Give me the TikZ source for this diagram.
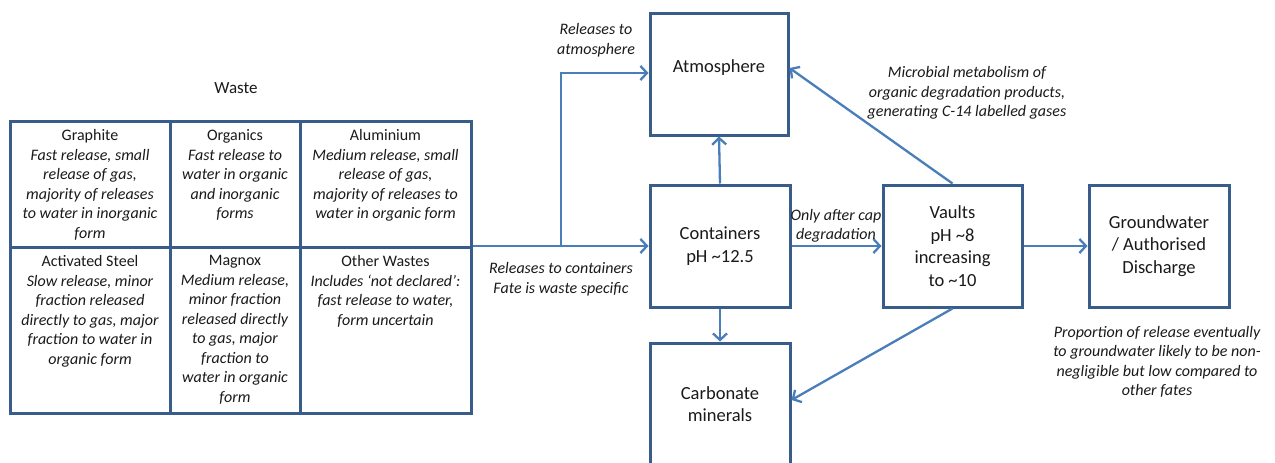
\documentclass[tikz,border=0pt]{standalone}
\usepackage{fontspec}
\setmainfont{Carlito}
\usetikzlibrary{arrows.meta,calc}
\definecolor{boxline}{HTML}{385D8A}
\definecolor{flow}{HTML}{4A7EBB}
\definecolor{ink}{HTML}{1A1A1A}
\begin{document}
\begin{tikzpicture}[x=1pt,y=-1pt,
  every node/.style={text=ink,inner sep=0pt},
  stage/.style={draw=boxline,line width=3pt,rectangle,minimum width=139pt,minimum height=122pt,
     align=center,font=\fontsize{18.5}{22.7}\selectfont},
  cell/.style={draw=boxline,line width=3pt,rectangle},
  celltext/.style={anchor=north,align=center,font=\fontsize{16}{19.5}\selectfont},
  note/.style={align=center,font=\fontsize{16}{19.5}\selectfont\itshape},
  flowline/.style={draw=flow,line width=2.3pt},
  flowarrow/.style={flowline,-{Straight Barb[length=6.5pt,width=14pt,line width=2.3pt]}}
]
\clip (0,0) rectangle (1275,463);
\useasboundingbox (0,0) rectangle (1275,463);
\fill[white] (0,0) rectangle (1275,463);

% Waste table
\node[font=\fontsize{17}{20}\selectfont] (wastetitle) at (236,88) {Waste};
\node[cell,minimum width=160pt,minimum height=126pt] (c11) at (90,184) {};
\node[cell,minimum width=130pt,minimum height=126pt] (c12) at (235,184) {};
\node[cell,minimum width=171pt,minimum height=126pt] (c13) at (385.5,184) {};
\node[cell,minimum width=160pt,minimum height=166pt] (c21) at (90,330) {};
\node[cell,minimum width=130pt,minimum height=166pt] (c22) at (235,330) {};
\node[cell,minimum width=171pt,minimum height=166pt] (c23) at (385.5,330) {};

\node[celltext] (t11) at ([yshift=-10pt]c11.north) {Graphite\\\itshape Fast release, small\\\itshape release of gas,\\\itshape majority of releases\\\itshape to water in inorganic\\\itshape form};
\node[celltext] (t12) at ([yshift=-10pt]c12.north) {Organics\\\itshape Fast release to\\\itshape water in organic\\\itshape and inorganic\\\itshape forms};
\node[celltext] (t13) at ([yshift=-10pt]c13.north) {Aluminium\\\itshape Medium release, small\\\itshape release of gas,\\\itshape majority of releases to\\\itshape water in organic form};
\node[celltext] (t21) at ([yshift=-10pt]c21.north) {Activated Steel\\\itshape Slow release, minor\\\itshape fraction released\\\itshape directly to gas, major\\\itshape fraction to water in\\\itshape organic form};
\node[celltext] (t22) at ([yshift=-10pt]c22.north) {Magnox\\\itshape Medium release,\\\itshape minor fraction\\\itshape released directly\\\itshape to gas, major\\\itshape fraction to\\\itshape water in organic\\\itshape form};
\node[celltext] (t23) at ([yshift=-10pt]c23.north) {Other Wastes\\\itshape Includes ‘not declared’:\\\itshape fast release to water,\\\itshape form uncertain};

% Compartments
\node[stage,minimum width=138pt] (atm) at (719,74) {};
\node[font=\fontsize{18.5}{22.7}\selectfont] (atmtext) at (719,68) {Atmosphere};
\node[stage,minimum width=140pt] (cont) at (720,246) {Containers\\pH \textasciitilde12.5};
\node[stage,minimum width=140pt] (carb) at (720,404) {Carbonate\\minerals};
\node[stage] (vault) at (952.5,246) {Vaults\\pH \textasciitilde8\\increasing\\to \textasciitilde10};
\node[stage,minimum width=140pt] (gw) at (1159,246) {Groundwater\\/ Authorised\\Discharge};

% Flows
\coordinate (tabout) at (c13.east |- cont.west);
\coordinate (split) at (561,246);
\draw[flowarrow] (tabout) -- (cont.west);
\draw[flowarrow] (split) |- ([yshift=1pt]atm.west);
\draw[flowarrow] (cont.north) -- (atm.south);
\draw[flowarrow] (cont.south) -- (carb.north);
\draw[flowarrow] (cont.east) -- (vault.west);
\draw[flowarrow] (vault.east) -- (gw.west);
\draw[flowarrow] (vault.north) -- ([yshift=6pt]atm.east);
\draw[flowarrow] (vault.south) -- ([yshift=4pt]carb.east);

% Annotations
\node[note] (n1) at (596,40) {Releases to\\atmosphere};
\node[note] (n2) at (561,279) {Releases to containers\\Fate is waste specific};
\node[note] (n3) at (836,226) {Only after cap\\degradation};
\node[note] (n4) at (967,93) {Microbial metabolism of\\organic degradation products,\\generating C-14 labelled gases};
\node[note] (n5) at (1157,362) {Proportion of release eventually\\to groundwater likely to be non-\\negligible but low compared to\\other fates};
\end{tikzpicture}
\end{document}
